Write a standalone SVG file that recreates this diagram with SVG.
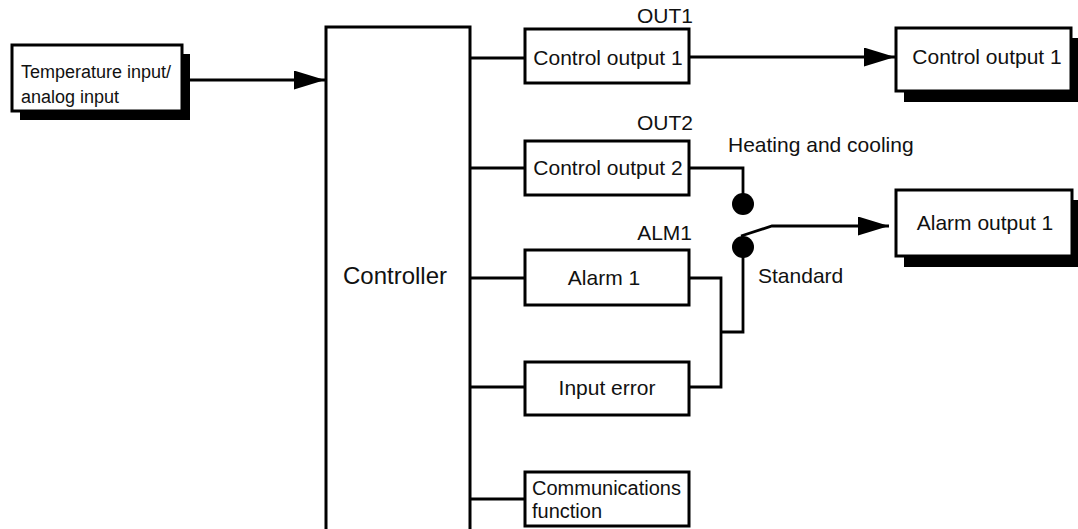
<svg xmlns="http://www.w3.org/2000/svg" width="1078" height="529" viewBox="0 0 1078 529">
<style>
.box{fill:#fff;stroke:#000;stroke-width:3}
.shadow{fill:#000}
.ln{fill:none;stroke:#000;stroke-width:2.8}
text{font-family:"Liberation Sans",Arial,sans-serif;font-size:21px;fill:#111}
.mid{text-anchor:middle}
.end{text-anchor:end}
</style>
<defs>
<marker id="arr" markerWidth="31" markerHeight="19" refX="31" refY="9.5" orient="auto" markerUnits="userSpaceOnUse">
<path d="M0,0 L31,9.5 L0,19 Z" fill="#000"/>
</marker>
</defs>
<rect x="0" y="0" width="1078" height="529" fill="#fff"/>
<g id="connectors">
<line class="ln" x1="182" y1="80" x2="325" y2="80" marker-end="url(#arr)"/>
<line class="ln" x1="470" y1="58" x2="525" y2="58" stroke-width="3"/>
<line class="ln" x1="470" y1="168" x2="525" y2="168"/>
<line class="ln" x1="470" y1="278" x2="525" y2="278"/>
<line class="ln" x1="470" y1="387" x2="525" y2="387" stroke-width="3.5"/>
<line class="ln" x1="470" y1="499" x2="525" y2="499"/>
<line class="ln" x1="689" y1="57" x2="895" y2="57" marker-end="url(#arr)"/>
<polyline class="ln" points="689,168 743,168 743,195"/>
<polyline class="ln" points="689,278 721,278 721,387 689,387"/>
<polyline class="ln" points="721,332 743,332 743,250"/>
<polyline class="ln" points="741,236 772,226 889,226" marker-end="url(#arr)"/>
<circle cx="743" cy="204" r="11" fill="#000"/>
<circle cx="743" cy="247" r="11" fill="#000"/>
</g>
<g id="temp-input">
<rect class="shadow" x="20" y="54" width="170" height="66"/>
<rect class="box" x="12" y="45" width="170" height="66"/>
<text x="21" y="78" style="font-size:18px">Temperature input/</text>
<text x="21" y="103" style="font-size:18px">analog input</text>
</g>
<g id="controller">
<rect class="box" x="326" y="27" width="144" height="520"/>
<text class="mid" x="395" y="284" style="font-size:24px">Controller</text>
</g>
<g id="control-output-1">
<rect class="box" x="525" y="29" width="164" height="54"/>
<text class="mid" x="608" y="65">Control output 1</text>
<text class="end" x="693" y="23">OUT1</text>
</g>
<g id="control-output-2">
<rect class="box" x="525" y="141" width="164" height="54"/>
<text class="mid" x="608" y="175">Control output 2</text>
<text class="end" x="693" y="130">OUT2</text>
</g>
<g id="alarm-1">
<rect class="box" x="525" y="250" width="164" height="55"/>
<text class="mid" x="604" y="285">Alarm 1</text>
<text class="end" x="692" y="240">ALM1</text>
</g>
<g id="input-error">
<rect class="box" x="525" y="362" width="164" height="53"/>
<text class="mid" x="607" y="395">Input error</text>
</g>
<g id="communications">
<rect class="box" x="525" y="472" width="164" height="54"/>
<text x="532" y="495" style="font-size:20px">Communications</text>
<text x="532" y="518" style="font-size:20px">function</text>
</g>
<g id="labels">
<text x="728" y="152">Heating and cooling</text>
<text x="758" y="283">Standard</text>
</g>
<g id="out-control-output-1">
<rect class="shadow" x="904" y="38" width="175" height="64"/>
<rect class="box" x="896" y="28" width="175" height="63"/>
<text class="mid" x="987" y="64">Control output 1</text>
</g>
<g id="alarm-output-1">
<rect class="shadow" x="904" y="200" width="175" height="67"/>
<rect class="box" x="896" y="190" width="176" height="66"/>
<text class="mid" x="985" y="230">Alarm output 1</text>
</g>
</svg>
